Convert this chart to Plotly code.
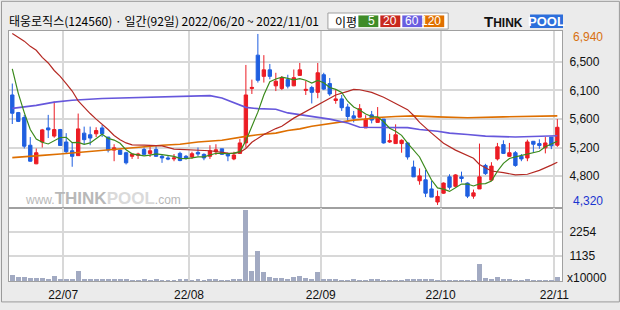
import plotly.graph_objects as go
from plotly.subplots import make_subplots

# ---------------- data ----------------
title_text = "태웅로직스(124560) · 일간(92일) 2022/06/20 ~ 2022/11/01"

open_ = [6005, 5735, 5660, 5235, 4950, 5285, 5500, 5375, 5475, 5285,
         5150, 5075, 5420, 5395, 5410, 5500, 5360, 5160, 5160, 5120,
         5065, 5080, 5170, 5110, 5170, 5065, 5040, 5025, 5110, 5065,
         5055, 5125, 5095, 5065, 5135, 5180, 5100, 5025, 5110, 5270,
         6105, 6615, 6290, 6390, 6145, 6105, 6240, 6145, 6305, 6075,
         6120, 6045, 6315, 6180, 5920, 5945, 5820, 5685, 5665, 5500,
         5700, 5585, 5635, 5285, 5260, 5260, 5270, 4900, 4690, 4705,
         4565, 4365, 4500, 4750, 4605, 4750, 4655, 4455, 4565, 4925,
         4700, 5025, 5245, 5065, 5120, 5065, 5040, 5295, 5260, 5195,
         5360, 5235]
high = [6180, 5745, 5700, 5360, 5185, 5485, 5700, 5905, 5485, 5420,
        5285, 5720, 5520, 5520, 5510, 5545, 5360, 5250, 5170, 5135,
        5110, 5120, 5200, 5220, 5220, 5085, 5085, 5100, 5135, 5085,
        5135, 5200, 5110, 5235, 5250, 5180, 5120, 5135, 5330, 6465,
        6240, 6940, 6615, 6480, 6345, 6295, 6315, 6395, 6495, 6220,
        6145, 6495, 6345, 6265, 6080, 6005, 5870, 5760, 5865, 5695,
        5760, 5820, 5635, 5410, 5555, 5325, 5285, 5000, 4880, 4855,
        4690, 4540, 4665, 4790, 4790, 4830, 4665, 4555, 5260, 4950,
        4975, 5270, 5310, 5270, 5145, 5100, 5320, 5300, 5325, 5360,
        5360, 5635]
low = [5560, 5590, 5185, 4985, 4945, 5200, 5345, 5350, 5230, 5110,
       4905, 5075, 5250, 5235, 5360, 5360, 5125, 4990, 5085, 4940,
       5025, 5025, 5085, 5055, 5055, 4965, 5005, 4990, 4990, 5015,
       5025, 5065, 5005, 5025, 5085, 5085, 4990, 5005, 5100, 5200,
       6020, 6195, 6195, 6245, 6065, 6080, 6105, 6140, 6305, 6005,
       5875, 5955, 6080, 5990, 5870, 5760, 5610, 5585, 5660, 5500,
       5570, 5585, 5260, 5270, 5260, 5120, 5015, 4750, 4630, 4440,
       4440, 4320, 4490, 4555, 4590, 4665, 4425, 4415, 4565, 4780,
       4700, 5000, 5100, 5055, 4905, 4990, 4990, 5120, 5180, 5110,
       5175, 5210]
close = [5725, 5600, 5220, 4990, 5120, 5470, 5470, 5475, 5230, 5135,
         5065, 5485, 5320, 5345, 5460, 5410, 5160, 5195, 5095, 4965,
         5100, 5100, 5095, 5150, 5065, 5040, 5025, 5040, 5000, 5040,
         5105, 5100, 5040, 5150, 5165, 5095, 5070, 5085, 5270, 6005,
         6120, 6230, 6390, 6290, 6215, 6265, 6140, 6270, 6390, 6090,
         6045, 6345, 6095, 6020, 5945, 5810, 5675, 5650, 5795, 5635,
         5620, 5650, 5270, 5305, 5395, 5310, 5055, 4750, 4765, 4500,
         4440, 4450, 4655, 4590, 4780, 4725, 4455, 4505, 4750, 4800,
         4915, 5210, 5110, 5120, 4925, 5025, 5285, 5250, 5230, 5270,
         5225, 5510]
# volume in units of 10,000 shares
volume = [300, 210, 210, 165, 165, 165, 120, 255, 120, 120,
          120, 480, 120, 120, 120, 120, 120, 120, 120, 120,
          75, 75, 120, 75, 120, 75, 75, 75, 120, 120,
          75, 120, 75, 120, 120, 75, 75, 120, 120, 3280,
          480, 1405, 435, 210, 165, 165, 120, 210, 255, 165,
          120, 435, 120, 120, 120, 75, 75, 120, 75, 75,
          120, 120, 75, 75, 75, 75, 120, 120, 120, 120,
          120, 75, 75, 75, 75, 75, 75, 75, 795, 165,
          120, 210, 120, 120, 75, 75, 120, 75, 75, 75,
          75, 210]

# moving averages (day index, value)
ma5_head = [6405, 6030, 5735, 5475]          # first 4 days (need earlier closes)
ma20_idx = [0, 1, 2, 3, 4, 5, 6, 7, 8, 9, 10, 11, 12, 13, 14, 15, 16, 17, 18, 19, 20,
            22, 25, 27, 30, 33, 36, 37, 38, 39, 40, 42, 44, 45, 47, 50, 52, 54, 56, 57, 58,
            60, 62, 64, 66, 67, 68, 70, 72, 74, 76, 77, 78, 80, 82, 84, 86, 88, 90, 91]
ma20_val = [6945, 6890, 6830, 6750, 6690, 6580, 6495, 6380, 6290, 6180, 6065, 5915, 5810,
            5720, 5635, 5560, 5475, 5385, 5320, 5270, 5240,
            5235, 5225, 5175, 5160, 5150, 5115, 5110, 5125, 5185, 5280,
            5400, 5490, 5525, 5650, 5800, 5905, 6005, 6060, 6090, 6085,
            6045, 5970, 5880, 5780, 5690, 5585, 5420, 5265, 5160, 5080,
            5035, 4940, 4840, 4815, 4780, 4790, 4850, 4930, 4975]
ma60_idx = [0, 2, 4, 7, 10, 15, 22, 27, 31, 33, 35, 37, 39, 41, 44, 46, 50, 53, 56, 58,
            66, 68, 71, 73, 76, 79, 84, 88, 91]
ma60_val = [5800, 5820, 5845, 5895, 5925, 5950, 5965, 5980, 5995, 5995,
            5960, 5890, 5815, 5795, 5785, 5730, 5675, 5635, 5575, 5510,
            5505, 5475, 5450, 5420, 5400, 5375, 5360, 5365, 5380]
ma120_idx = [0, 3, 5, 8, 11, 15, 18, 21, 25, 28, 31, 35, 37, 39, 41, 44, 46, 48, 50, 53,
             55, 57, 59, 61, 64, 67, 71, 76, 82, 88, 91]
ma120_val = [5045, 5060, 5080, 5100, 5125, 5150, 5175, 5210, 5235, 5250,
             5285, 5310, 5345, 5370, 5395, 5420, 5460, 5485, 5525, 5570,
             5600, 5620, 5635, 5660, 5675, 5685, 5670, 5655, 5670, 5685, 5685]

month_start_idx = [9, 30, 52, 72, 91]
month_labels = ["22/07", "22/08", "22/09", "22/10", "22/11"]
price_tickvals = [4765, 5197, 5644, 6076, 6508]
price_ticktext = ["4,800", "5,200", "5,600", "6,100", "6,500"]
vol_tickvals = [1135, 2254]
vol_ticktext = ["1135", "2254"]
legend_labels = ["5", "20", "60", "120"]

# ---------------- derived ----------------
n = len(close)
days = list(range(n))
ma5 = ma5_head + [sum(close[i - 4:i + 1]) / 5 for i in range(4, n)]
month_ticks = [m - 0.5 for m in month_start_idx]

RED = "#ec1c24"
BLUE = "#1f5fe0"
C_MA5 = "#3b8a1c"
C_MA20 = "#b52a24"
C_MA60 = "#6657dc"
C_MA120 = "#de6f00"
GRID = "#d8d8d8"
FRAME = "#a0a0a0"
FONT = "Liberation Sans"

W, H = 620, 310
ML, MR, MT, MB = 8, 58, 31, 22
PW, PH = W - ML - MR, H - MT - MB


def PX(x):
    return (x - ML) / PW


def PY(y):
    return (H - MB - y) / PH


fig = make_subplots(rows=2, cols=1, shared_xaxes=True, vertical_spacing=0,
                    row_heights=[0.7062, 0.2938])

fig.add_trace(go.Candlestick(
    x=days, open=open_, high=high, low=low, close=close,
    increasing=dict(line=dict(color=RED, width=1), fillcolor=RED),
    decreasing=dict(line=dict(color=BLUE, width=1), fillcolor=BLUE),
    whiskerwidth=0, showlegend=False), row=1, col=1)

for xs, ys, col, w in [(ma120_idx, ma120_val, C_MA120, 1.6),
                       (ma60_idx, ma60_val, C_MA60, 1.6),
                       (ma20_idx, ma20_val, C_MA20, 1.2),
                       (days, ma5, C_MA5, 1.2)]:
    fig.add_trace(go.Scatter(x=xs, y=ys, mode="lines", line=dict(color=col, width=w),
                             hoverinfo="skip", showlegend=False), row=1, col=1)

fig.add_trace(go.Bar(x=days, y=volume, marker=dict(color="#a2aac2", line=dict(width=0)),
                     width=0.82, showlegend=False), row=2, col=1)

xcommon = dict(range=[-0.55, n - 0.22], tickmode="array", tickvals=month_ticks,
               ticktext=month_labels, showgrid=True, gridcolor=GRID, gridwidth=1.5,
               zeroline=False, showline=True, mirror=True, linecolor=FRAME, linewidth=1,
               ticks="", rangeslider=dict(visible=False), ticklabelstandoff=3,
               tickfont=dict(family=FONT, size=12, color="#111"))
fig.update_xaxes(**xcommon)
fig.update_xaxes(showticklabels=False, row=1, col=1)
fig.update_xaxes(showticklabels=True, row=2, col=1)

ycommon = dict(side="right", showgrid=True, gridcolor=GRID, gridwidth=1.5, zeroline=False,
               showline=True, mirror=True, linecolor=FRAME, linewidth=1, ticks="",
               ticklabelstandoff=4, tickfont=dict(family=FONT, size=12, color="#111"))
fig.update_yaxes(**ycommon)
fig.update_yaxes(range=[4280, 6985], tickmode="array", tickvals=price_tickvals,
                 ticktext=price_ticktext, row=1, col=1)
fig.update_yaxes(range=[0, 3370], tickmode="array", tickvals=vol_tickvals,
                 ticktext=vol_ticktext, row=2, col=1)

ann = []
shapes = []
# title
ann.append(dict(text=title_text, x=PX(6), y=PY(20.5), xref="paper", yref="paper",
                xanchor="left", yanchor="middle", showarrow=False,
                font=dict(family="Noto Sans CJK KR", size=12, color="#000")))
# max / min labels
ann.append(dict(text=f"{max(high):,}", x=1, xshift=9, y=max(high), yshift=-3,
                xref="paper", yref="y", xanchor="left", yanchor="middle", showarrow=False,
                font=dict(family=FONT, size=12, color="#d8700f")))
ann.append(dict(text=f"{min(low):,}", x=1, xshift=9, y=min(low), yshift=4,
                xref="paper", yref="y", xanchor="left", yanchor="middle", showarrow=False,
                font=dict(family=FONT, size=12, color="#1a35d0")))
ann.append(dict(text="x10000", x=1, xshift=3, y=PY(285), xref="paper", yref="paper",
                xanchor="left", yanchor="middle", showarrow=False,
                font=dict(family=FONT, size=12, color="#111")))
# legend box
shapes.append(dict(type="rect", xref="paper", yref="paper", x0=PX(327.5), x1=PX(448),
                   y0=PY(29), y1=PY(12.5), line=dict(color="#a0a0a0", width=1),
                   fillcolor="white"))
ann.append(dict(text="이평", x=PX(333), y=PY(21), xref="paper", yref="paper",
                xanchor="left", yanchor="middle", showarrow=False,
                font=dict(family="Noto Sans CJK KR", size=12, color="#000")))
box_x = [(358, 378), (380, 400), (402, 422), (423.5, 444)]
box_c = ["#3f8c28", "#c8281e", "#6a5ee0", "#e07000"]
for (x0, x1), c, t in zip(box_x, box_c, legend_labels):
    shapes.append(dict(type="rect", xref="paper", yref="paper", x0=PX(x0), x1=PX(x1),
                       y0=PY(27), y1=PY(15), line=dict(width=0), fillcolor=c))
    ann.append(dict(text=t, x=PX(x1 - 1), y=PY(21), xref="paper", yref="paper",
                    xanchor="right", yanchor="middle", showarrow=False,
                    font=dict(family=FONT, size=12, color="white")))
# THINKPOOL logo
ann.append(dict(text="<b>T<span style='font-size:12px'>HINK</span></b>", x=PX(482), y=PY(21.5),
                xref="paper", yref="paper", xanchor="left", yanchor="middle",
                showarrow=False, font=dict(family=FONT, size=15, color="#111")))
shapes.append(dict(type="rect", xref="paper", yref="paper", x0=PX(530), x1=PX(563),
                   y0=PY(28), y1=PY(14), line=dict(width=0), fillcolor="#2d6fdb"))
ann.append(dict(text="<b>POOL</b>", x=PX(546.5), y=PY(21.5), xref="paper", yref="paper",
                xanchor="center", yanchor="middle", showarrow=False,
                font=dict(family=FONT, size=13, color="white")))
# watermark
ann.append(dict(text="www.<b><span style='font-size:17px'>THINK</span>"
                     "<span style='font-size:17px;color:#dadada'>POOL</span></b>.com",
                x=PX(22), y=PY(203), xref="paper", yref="paper", xanchor="left",
                yanchor="middle", showarrow=False,
                font=dict(family=FONT, size=12, color="#b8b8b8")))
# outer frame
shapes.append(dict(type="rect", xref="paper", yref="paper", x0=PX(0.5), x1=PX(619.5),
                   y0=PY(309.5), y1=PY(0.5), line=dict(color="#9a9a9a", width=1)))

fig.update_layout(width=W, height=H, margin=dict(l=ML, r=MR, t=MT, b=MB),
                  paper_bgcolor="#ebebeb", plot_bgcolor="white", showlegend=False,
                  boxgap=0.2, bargap=0, annotations=ann, shapes=shapes,
                  font=dict(family=FONT, size=12))

fig.write_html("out.html")
